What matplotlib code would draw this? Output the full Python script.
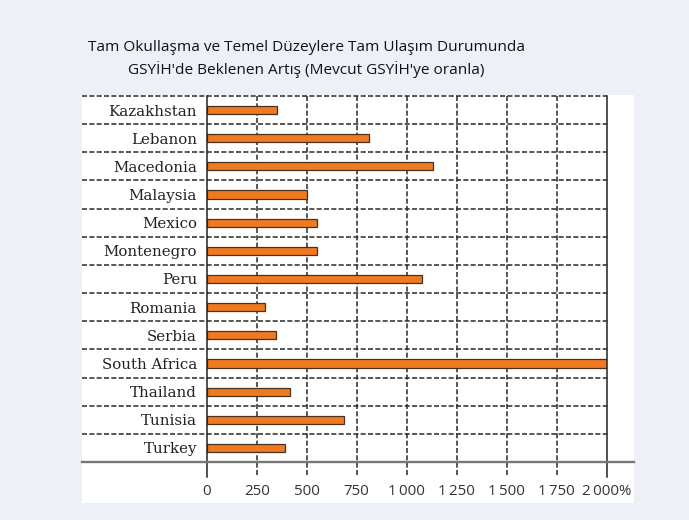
import matplotlib
matplotlib.use("Agg")
import matplotlib.pyplot as plt
from matplotlib.patches import Rectangle

countries = ["Kazakhstan", "Lebanon", "Macedonia", "Malaysia", "Mexico", "Montenegro",
             "Peru", "Romania", "Serbia", "South Africa", "Thailand", "Tunisia", "Turkey"]
gain = [353, 813, 1133, 500, 550, 550, 1078, 292, 348, 2000, 415, 685, 393]
ticks = [0, 250, 500, 750, 1000, 1250, 1500, 1750, 2000]
tick_labels = ["0", "250", "500", "750", "1\u2009000", "1\u2009250", "1\u2009500",
               "1\u2009750", "2\u2009000%"]
title = ("Tam Okullaşma ve Temel Düzeylere Tam Ulaşım Durumunda\n"
         "GSYİH'de Beklenen Artış (Mevcut GSYİH'ye oranla)")

W, H = 689, 520
fig = plt.figure(figsize=(W / 100, H / 100), dpi=100, facecolor="#edf0f6")

# white panel behind the chart
fig.patches.append(Rectangle((82 / W, 1 - 503 / H), (634 - 82) / W, (503 - 95) / H,
                             transform=fig.transFigure, facecolor="white",
                             edgecolor="none", zorder=-5))

fig.text(306 / W, 1 - 59 / H, title, ha="center", va="center", fontsize=11.1,
         family=["Open Sans", "DejaVu Sans"], color="#111111", linespacing=1.45)

x0, x1 = 206.7, 606.7
y0, y1 = 96, 462
ax = fig.add_axes([x0 / W, 1 - y1 / H, (x1 - x0) / W, (y1 - y0) / H])
ax.set_facecolor("none")
ax.set_xlim(0, 2000)
ax.set_ylim(len(countries) - 0.5, -0.5)
for s in ax.spines.values():
    s.set_visible(False)

ypos = list(range(len(countries)))
ax.barh(ypos, gain, height=0.29, color="#f07a20", edgecolor="#4a3020",
        linewidth=0.9, zorder=3)

left_frac = (82 - x0) / (x1 - x0)
right_frac = (634 - x0) / (x1 - x0)
below = -(475 - y1) / (y1 - y0)
dash = dict(color="#2a2a2a", lw=1.1, linestyle=(0, (3.3, 1.5)), clip_on=False)

# horizontal dashed separators
for k in range(len(countries)):
    ax.plot([left_frac, 1], [k - 0.5, k - 0.5], transform=ax.get_yaxis_transform(),
            zorder=2, **dash)
# vertical dashed gridlines
for t in ticks[1:-1]:
    ax.plot([t, t], [below, 1], transform=ax.get_xaxis_transform(), zorder=2, **dash)
# solid verticals at 0 and 2000
for t in (0, 2000):
    ax.plot([t, t], [below - 0.005, 1], transform=ax.get_xaxis_transform(),
            color="#222222", lw=1.1, clip_on=False, zorder=4)
# bottom axis line
ax.plot([left_frac, right_frac], [0, 0], transform=ax.transAxes, color="#777777",
        lw=1.7, clip_on=False, zorder=4)

ax.set_yticks(ypos)
ax.set_yticklabels(countries, family="DejaVu Serif", fontsize=10.8, color="#222222")
ax.set_xticks(ticks)
ax.set_xticklabels(tick_labels, family=["Open Sans", "DejaVu Sans"], fontsize=10.8,
                   color="#333333")
ax.tick_params(axis="y", length=0, pad=7)
ax.tick_params(axis="x", length=0, pad=16)

fig.savefig("out.png", dpi=100, facecolor=fig.get_facecolor())
